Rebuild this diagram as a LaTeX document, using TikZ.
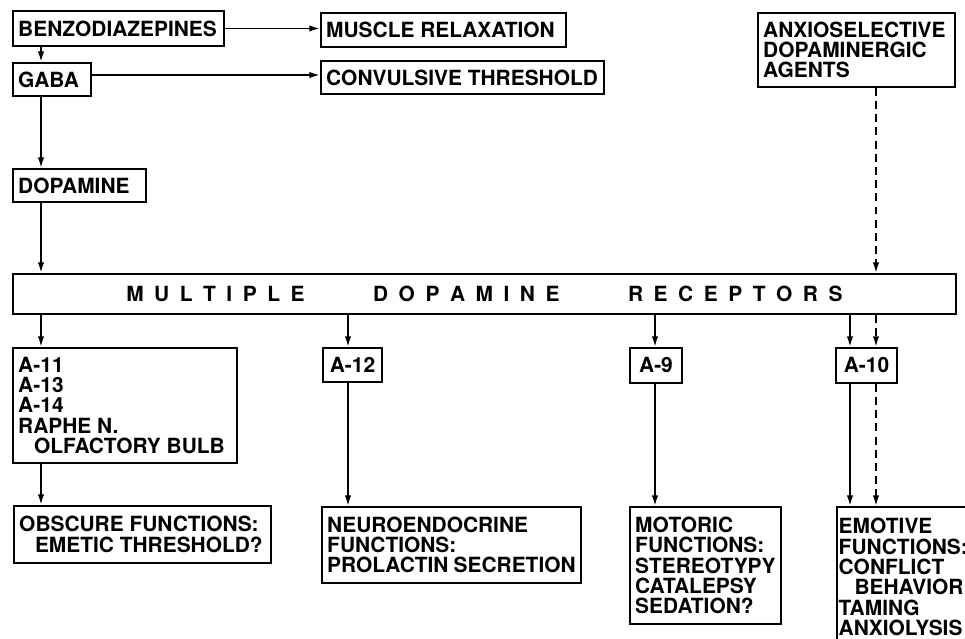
\documentclass[tikz,border=0pt]{standalone}
\usepackage{fontspec}
\setmainfont{TeX Gyre Heros}
\usetikzlibrary{arrows.meta}
\hyphenpenalty=10000
\exhyphenpenalty=10000
\newcommand{\lgap}{\hspace{6.0pt}}
\newcommand{\wgap}{\hspace{39pt}}
\newcommand{\ind}{\hspace*{9pt}}
\begin{document}
\begin{tikzpicture}[x=0.02cm,y=-0.02cm,
  every node/.style={font=\fontsize{11.9}{11.6}\selectfont\bfseries},
  box/.style={draw,line width=1.1pt,anchor=north west,align=flush left,inner xsep=3pt,inner ysep=1pt},
  tag/.style={box,align=flush center},
  link/.style={line width=1pt,-{Latex[length=6pt,width=3.6pt]}},
  dlink/.style={link,dash pattern=on 4.5pt off 3pt}]
\useasboundingbox (0,0) rectangle (965,639);
\clip (0,0) rectangle (965,639);

\coordinate (colL) at (41,0);
\coordinate (colB) at (348,0);
\coordinate (colC) at (655,0);
\coordinate (colD) at (850,0);
\coordinate (colE) at (876,0);

\node[box,text width=4.01cm,minimum height=0.70cm] (benzo) at (12,10) {BENZODIAZEPINES};
\node[box,text width=4.69cm,minimum height=0.68cm] (muscle) at (320,12) {MUSCLE~RELAXATION};
\node[box,text width=1.35cm,minimum height=0.66cm] (gaba) at (12,62) {GABA};
\node[box,text width=5.45cm,minimum height=0.66cm] (convuls) at (320,60) {CONVULSIVE~THRESHOLD};
\node[box,text width=2.45cm,minimum height=0.66cm] (dopa) at (12,168) {DOPAMINE};
\node[box,text width=3.73cm,minimum height=1.48cm] (anxio) at (757,12) {ANXIOSELECTIVE\\DOPAMINERGIC\\AGENTS};

\node[tag,text width=18.65cm,minimum height=0.80cm] (recep) at (12,273)
  {M\lgap U\lgap L\lgap T\lgap I\lgap P\lgap L\lgap E\wgap D\lgap O\lgap P\lgap A\lgap M\lgap I\lgap N\lgap E\wgap R\lgap E\lgap C\lgap E\lgap P\lgap T\lgap O\lgap R\lgap S};

\node[box,text width=4.27cm,minimum height=2.30cm] (a11) at (12,347) {A-11\\A-13\\A-14\\RAPHE~N.\\\ind OLFACTORY~BULB};
\node[tag,text width=0.97cm,minimum height=0.68cm] (a12) at (322,347) {A-12};
\node[tag,text width=0.83cm,minimum height=0.70cm] (a9) at (629,347) {A-9};
\node[tag,text width=1.01cm,minimum height=0.70cm] (a10) at (835,347) {A-10};

\node[box,text width=4.93cm,minimum height=1.14cm] (obscure) at (13,505) {OBSCURE~FUNCTIONS:\\\ind EMETIC~THRESHOLD?};
\node[box,text width=4.97cm,minimum height=1.52cm] (neuro) at (321,506) {NEUROENDOCRINE\\FUNCTIONS:\\PROLACTIN~SECRETION};
\node[box,text width=2.81cm,minimum height=2.34cm] (motor) at (629,506) {MOTORIC\\FUNCTIONS:\\STEREOTYPY\\CATALEPSY\\SEDATION?};
\node[box,inner xsep=1pt,text width=2.93cm,minimum height=2.80cm] (emotive) at (836,506) {EMOTIVE\\FUNCTIONS:\\CONFLICT\\\ind BEHAVIOR\\TAMING\\ANXIOLYSIS};

\draw[link] (benzo.east) -- (benzo.east -| muscle.west);
\draw[link] (gaba.east |- 0,75) -- (convuls.west |- 0,75);
\draw[link] (benzo.south -| colL) -- (gaba.north -| colL);
\draw[link] (gaba.south -| colL) -- (dopa.north -| colL);
\draw[link] (dopa.south -| colL) -- (recep.north -| colL);
\draw[dlink] (anxio.south -| colE) -- (recep.north -| colE);

\draw[link] (recep.south -| colL) -- (a11.north -| colL);
\draw[link] (recep.south -| colB) -- (a12.north -| colB);
\draw[link] (recep.south -| colC) -- (a9.north -| colC);
\draw[link] (recep.south -| colD) -- (a10.north -| colD);
\draw[dlink] (recep.south -| colE) -- (a10.north -| colE);

\draw[link] (a11.south -| colL) -- (obscure.north -| colL);
\draw[link] (a12.south -| colB) -- (neuro.north -| colB);
\draw[link] (a9.south -| colC) -- (motor.north -| colC);
\draw[link] (a10.south -| colD) -- (emotive.north -| colD);
\draw[dlink] (a10.south -| colE) -- (emotive.north -| colE);
\end{tikzpicture}
\end{document}
